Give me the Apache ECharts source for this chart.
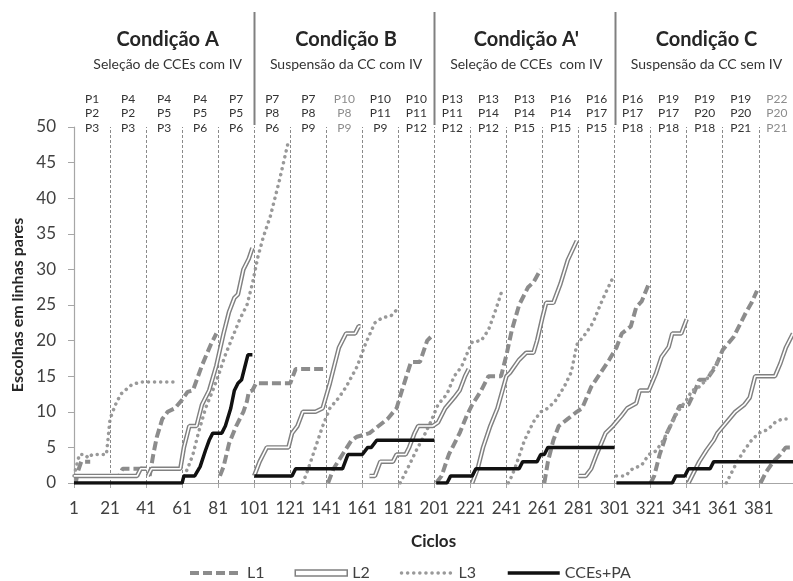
<!DOCTYPE html>
<html>
<head>
<meta charset="utf-8">
<script src="https://cdn.jsdelivr.net/npm/echarts@6/dist/echarts.min.js"></script>
<style>
  html, body { margin: 0; padding: 0; background: #fff; }
  #chart { width: 793px; height: 581px; }
</style>
</head>
<body>
<div id="chart"></div>
<script>
// ciclos com rótulo no eixo x
const cycleTicks = [1, 21, 41, 61, 81, 101, 121, 141, 161, 181, 201, 221, 241, 261, 281, 301, 321, 341, 361, 381];
// linhas de geração (pontilhadas) e de condição (sólidas)
const generationLines = [21, 41, 61, 81, 101, 121, 141, 161, 181, 201, 221, 241, 261, 281, 301, 321, 341, 361, 381];
const conditionLines = [101, 201, 301];

const conditions = ['Condição A', 'Condição B', "Condição A'", 'Condição C'];
const conditionSubs = ['Seleção de CCEs com IV', 'Suspensão da CC com IV', 'Seleção de CCEs  com IV', 'Suspensão da CC sem IV'];
const conditionMid = [53, 152, 252, 352];

// participantes de cada geração (L1, L2, L3)
const generations = [
  ['P1', 'P2', 'P3'], ['P4', 'P2', 'P3'], ['P4', 'P5', 'P3'], ['P4', 'P5', 'P6'], ['P7', 'P5', 'P6'],
  ['P7', 'P8', 'P6'], ['P7', 'P8', 'P9'], ['P10', 'P8', 'P9'], ['P10', 'P11', 'P9'], ['P10', 'P11', 'P12'],
  ['P13', 'P11', 'P12'], ['P13', 'P14', 'P12'], ['P13', 'P14', 'P15'], ['P16', 'P14', 'P15'], ['P16', 'P17', 'P15'],
  ['P16', 'P17', 'P18'], ['P19', 'P17', 'P18'], ['P19', 'P20', 'P18'], ['P19', 'P20', 'P21'], ['P22', 'P20', 'P21']
];
const generationMid = [11, 31, 51, 71, 91, 111, 131, 151, 171, 191, 211, 231, 251, 271, 291, 311, 331, 351, 371, 391];
const grayGenerations = [7, 19];

// escolhas acumuladas [ciclo, valor], um trecho por participante
const l1 = [
  [[2, 0], [3, 1.5], [5, 3], [10, 3]],
  [[22, 1], [26, 1], [28, 2], [41, 2]],
  [[43, 1], [45, 4], [47, 6.5], [50, 9], [53, 10], [57, 10.5], [61, 11.7], [64, 12.8], [67, 13], [72, 16.5], [77, 19.5], [80, 21]],
  [[82, 1], [84, 2.3], [87, 5.5], [91, 8], [95, 10], [97, 11.5], [98, 12.8], [100, 13], [102, 14], [121, 14], [124, 16], [140, 16]],
  [[142, 0], [145, 2], [150, 4], [155, 6], [158, 6.5], [165, 7], [170, 8], [175, 9], [180, 10.5], [183, 13], [188, 17], [193, 17], [197, 20], [199, 20.5]],
  [[202, 0], [205, 1], [209, 4], [215, 7], [219, 9.5], [222, 11], [227, 13], [231, 15], [238, 15], [241, 18], [244, 21.5], [248, 25], [253, 27.5], [256, 28.2], [260, 30]],
  [[262, 0], [264, 3], [267, 6], [270, 8], [275, 9], [280, 10], [283, 10.5], [288, 13.5], [293, 15.4], [298, 17.3], [302, 19], [305, 21], [310, 22], [313, 24.7], [316, 25.5], [320, 28]],
  [[321, 0], [323, 1], [326, 4], [330, 7], [333, 8.6], [337, 10.8], [340, 10.8], [342, 11], [345, 12.6], [348, 14.5], [352, 14.5], [357, 16.3], [361, 18.7], [367, 20.5], [371, 22.5], [374, 24], [377, 25.3], [380, 27]],
  [[382, 0], [385, 1.5], [389, 3], [393, 4], [396, 5], [400, 5]]
];
const l2 = [
  [[1, 1], [36, 1], [38, 2], [41, 2]],
  [[42, 1], [43, 1], [44, 2], [60, 2], [62, 5], [65, 8], [69, 8], [72, 11], [76, 13], [80, 16.5], [84, 21], [87, 24], [90, 26], [92, 26.5], [95, 30], [98, 31.5], [100, 33]],
  [[101, 1], [104, 3], [106, 4], [108, 5], [120, 5], [122, 7], [125, 8], [128, 10], [135, 10], [139, 10.5], [143, 14], [148, 19], [150, 20], [152, 21], [157, 21], [159, 22], [160, 22]],
  [[165, 1], [168, 1], [171, 3], [178, 3], [180, 4], [185, 4], [187, 5], [190, 7], [192, 8], [200, 8], [203, 8.5], [207, 10.5], [212, 12], [215, 13], [218, 15], [220, 16]],
  [[222, 0], [225, 2], [228, 5], [232, 8], [236, 10.5], [241, 15], [243, 15.5], [248, 17.3], [252, 18.3], [256, 18.3], [258, 20], [261, 23.3], [263, 25.3], [267, 25.3], [271, 28], [275, 31.3], [280, 34]],
  [[281, 1], [285, 1], [288, 2], [291, 4], [296, 7], [300, 8], [305, 9.5], [308, 10.5], [313, 11.2], [315, 13], [320, 13], [324, 15.4], [327, 17.7], [331, 19.1], [333, 21], [338, 21], [341, 23]],
  [[342, 0], [344, 1], [348, 3], [352, 4.6], [356, 6], [358, 7], [363, 8.5], [368, 10], [373, 11], [376, 12], [379, 15], [390, 15], [393, 16.8], [396, 19], [400, 21]]
];
const l3 = [
  [[1, 1], [2, 2], [4, 4], [7, 4], [9, 3.5], [11, 4], [19, 4], [21, 9], [24, 11], [27, 12.5], [33, 13.8], [38, 14.2], [57, 14.2]],
  [[62, 1], [64, 2], [67, 4], [70, 7], [74, 10.5], [78, 13], [81, 15], [85, 18], [89, 20.5], [93, 23], [97, 25], [100, 28], [103, 31.7], [106, 34.5], [110, 37.5], [115, 42.5], [120, 48]],
  [[128, 0], [131, 2], [135, 5], [139, 8], [143, 10.5], [148, 12], [152, 13.5], [158, 16.3], [163, 19.7], [168, 22.5], [172, 23.2], [177, 23.5], [180, 24.3]],
  [[182, 0], [184, 1], [187, 2.5], [191, 4.6], [195, 6.5], [199, 8.6], [203, 11], [208, 12.5], [212, 15], [216, 16.3], [220, 18.7], [222, 19.8], [227, 20], [231, 21.5], [235, 24.3], [239, 27.4]],
  [[242, 0], [244, 1], [246, 2.3], [249, 4.5], [251, 6], [256, 8.6], [260, 10], [264, 10.5], [268, 11.5], [273, 13.5], [277, 15.6], [280, 19.4], [285, 21], [289, 22.5], [293, 25], [296, 26.7], [300, 28.8]],
  [[302, 1], [307, 1], [311, 2], [316, 2.5], [320, 4], [324, 4.5], [328, 6], [332, 8], [336, 10], [341, 11.7], [344, 13], [347, 13.3], [352, 14.5], [356, 16.2], [358, 17]],
  [[363, 0], [366, 1.5], [369, 3], [373, 4.6], [377, 6], [381, 7], [386, 7.5], [390, 8.5], [394, 9], [399, 9]]
];
const ccePA = [
  [[1, 0], [61, 0], [62, 1], [68, 1], [71, 2.3], [74, 4.6], [76, 6], [78, 7], [83, 7], [85, 8], [88, 10.5], [90, 13], [92, 14], [94, 14.5], [96, 16.5], [97.5, 18], [100, 18]],
  [[101, 1], [122, 1], [124, 2], [150, 2], [153, 4], [161, 4], [164, 5], [166, 5], [169, 6], [201, 6]],
  [[202, 0], [208, 0], [210, 1], [222, 1], [224, 2], [248, 2], [250, 3], [258, 3], [260, 4], [262, 4], [264, 5], [301, 5]],
  [[302, 0], [333, 0], [335, 1], [340, 1], [342, 2], [354, 2], [356, 3], [400, 3]]
];

// junta os trechos com quebras ('-') entre eles
function joinSegs(segs) {
  const out = [];
  segs.forEach(function (s, i) {
    if (i > 0) out.push([s[0][0] - 0.5, '-']);
    s.forEach(function (p) { out.push(p); });
  });
  return out;
}

const FONT = 'Lato, "Open Sans", sans-serif';
const GRAY = '#8c8c8c';

let chartView = echarts.init(document.getElementById('chart'));

chartView.setOption({
  backgroundColor: '#fff',
  animation: false,
  textStyle: { fontFamily: FONT },
  grid: { left: 74, top: 127, width: 720, height: 356 },
  legend: {
    left: 183,
    top: 560,
    itemWidth: 52,
    itemHeight: 6,
    itemGap: 30,
    itemStyle: { opacity: 0 },
    lineStyle: { width: 'inherit' },
    textStyle: { fontSize: 16, color: '#404040', fontFamily: FONT },
    data: [
      { name: 'L1' },
      { name: 'L2', icon: 'rect', itemStyle: { color: '#fff', borderColor: '#808080', borderWidth: 1.5, opacity: 1 } },
      { name: 'L3' },
      { name: 'CCEs+PA' }
    ]
  },
  xAxis: {
    type: 'value',
    min: 1,
    max: 400,
    name: 'Ciclos',
    nameLocation: 'middle',
    nameGap: 50,
    nameTextStyle: { fontSize: 17, fontWeight: 'bold', color: '#262626', fontFamily: FONT },
    splitLine: { show: false },
    axisLine: { lineStyle: { color: '#a6a6a6', width: 1.2 } },
    axisTick: { show: true, length: 5, lineStyle: { color: '#a6a6a6' }, customValues: cycleTicks },
    axisLabel: { customValues: cycleTicks, margin: 17, fontSize: 17, color: '#404040', fontFamily: FONT }
  },
  yAxis: {
    type: 'value',
    min: 0,
    max: 50,
    interval: 5,
    name: 'Escolhas em linhas pares',
    nameLocation: 'middle',
    nameGap: 48,
    nameTextStyle: { fontSize: 16, fontWeight: 'bold', color: '#262626', fontFamily: FONT },
    splitLine: { show: false },
    axisLine: { show: true, lineStyle: { color: '#a6a6a6', width: 1.2 } },
    axisTick: { show: true, length: 6, lineStyle: { color: '#a6a6a6' } },
    axisLabel: { margin: 18, fontSize: 17, color: '#404040', fontFamily: FONT }
  },
  series: [
    {
      name: 'L1', type: 'line', showSymbol: false, symbol: 'none', z: 3,
      data: joinSegs(l1),
      lineStyle: { color: GRAY, width: 4, type: [9, 4], cap: 'butt' },
      itemStyle: { color: GRAY },
      markLine: {
        silent: true, symbol: 'none', label: { show: false },
        lineStyle: { color: '#8a8a8a', width: 1, type: [3, 2] },
        data: generationLines.map(function (c) { return { xAxis: c }; })
      }
    },
    {
      name: 'L3', type: 'line', showSymbol: false, symbol: 'none', z: 4,
      data: joinSegs(l3),
      lineStyle: { color: '#999999', width: 3.5, type: [0.1, 6], cap: 'round' },
      itemStyle: { color: '#999999' }
    },
    {
      name: 'L2', type: 'line', showSymbol: false, symbol: 'none', z: 5,
      data: joinSegs(l2),
      lineStyle: { color: '#808080', width: 4.5 },
      itemStyle: { color: '#808080' }
    },
    {
      name: 'L2w', type: 'line', showSymbol: false, symbol: 'none', z: 6,
      data: joinSegs(l2),
      lineStyle: { color: '#ffffff', width: 1.6 }
    },
    {
      name: 'CCEs+PA', type: 'line', showSymbol: false, symbol: 'none', z: 7,
      data: joinSegs(ccePA),
      lineStyle: { color: '#111111', width: 3.5 },
      itemStyle: { color: '#111111' }
    }
  ]
});

// textos e linhas acima da área do gráfico, posicionados pela escala x
function px(c) { return chartView.convertToPixel({ xAxisIndex: 0, yAxisIndex: 0 }, [c, 0])[0]; }
const graphics = [];
conditionLines.forEach(function (c) {
  const x = Math.round(px(c)) + 0.5;
  graphics.push({ type: 'line', shape: { x1: x, y1: 12, x2: x, y2: 125 }, style: { stroke: '#808080', lineWidth: 2 }, silent: true });
});
conditions.forEach(function (t, i) {
  graphics.push({ type: 'text', style: { text: t, x: px(conditionMid[i]), y: 40, textAlign: 'center', textVerticalAlign: 'middle', font: 'bold 20px ' + FONT, fill: '#262626' } });
  graphics.push({ type: 'text', style: { text: conditionSubs[i], x: px(conditionMid[i]), y: 64, textAlign: 'center', textVerticalAlign: 'middle', font: '14px ' + FONT, fill: '#333333' } });
});
const rowY = [99, 113, 128];
generations.forEach(function (g, i) {
  const col = grayGenerations.indexOf(i) >= 0 ? '#8c8c8c' : '#333333';
  g.forEach(function (p, r) {
    graphics.push({ type: 'text', style: { text: p, x: px(generationMid[i]), y: rowY[r], textAlign: 'center', textVerticalAlign: 'middle', font: '12px ' + FONT, fill: col } });
  });
});
chartView.setOption({ graphic: graphics });

window.addEventListener('resize', function () {
  chartView.resize();
});
</script>
</body>
</html>
